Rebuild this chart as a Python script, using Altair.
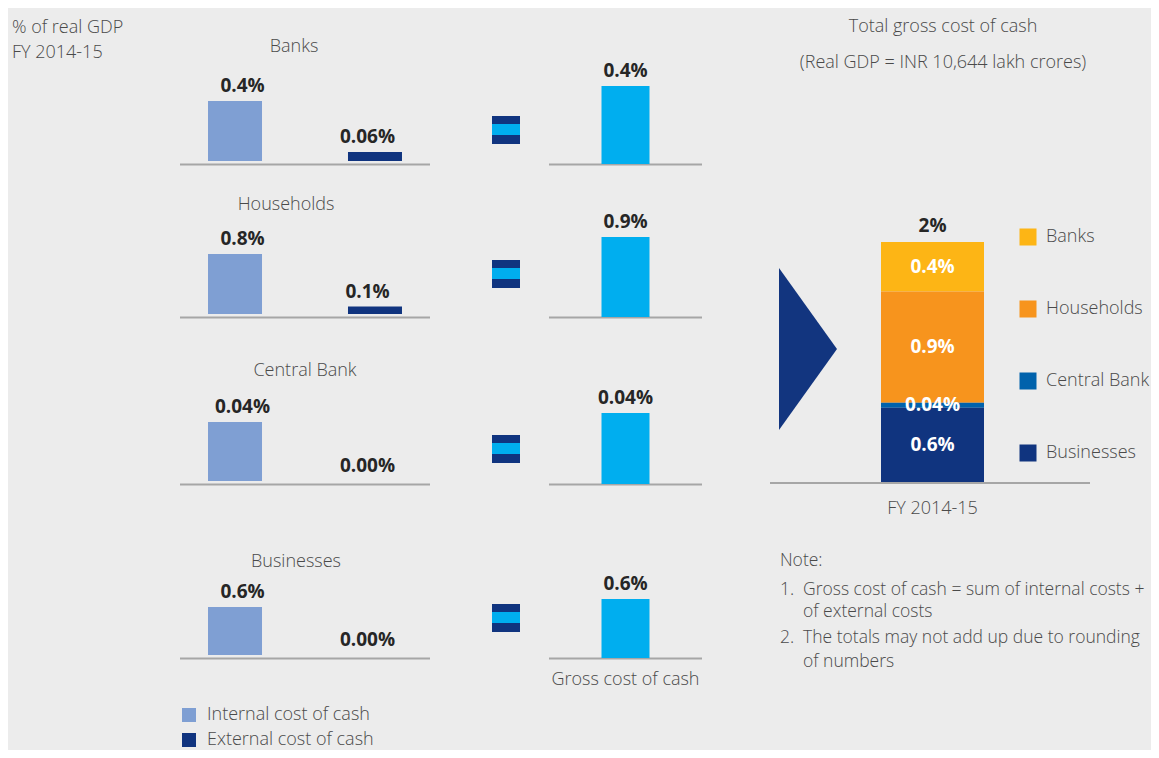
import altair as alt
import pandas as pd

# ---------------- data ----------------
SECTORS = ["Banks", "Households", "Central Bank", "Businesses"]
KINDS = ["Internal cost of cash", "External cost of cash"]
INTERNAL = [0.4, 0.8, 0.04, 0.6]
EXTERNAL = [0.06, 0.1, 0.0, 0.0]
GROSS = [0.4, 0.9, 0.04, 0.6]
INTERNAL_LBL = ["0.4%", "0.8%", "0.04%", "0.6%"]
EXTERNAL_LBL = ["0.06%", "0.1%", "0.00%", "0.00%"]
GROSS_LBL = ["0.4%", "0.9%", "0.04%", "0.6%"]
GROSS_CAT = "Gross cost of cash"
PERIOD = "FY 2014-15"
STACK_SECTORS = ["Banks", "Households", "Central Bank", "Businesses"]  # top -> bottom
STACK_VALUES = [0.4, 0.9, 0.04, 0.6]
STACK_LBL = ["0.4%", "0.9%", "0.04%", "0.6%"]
HEADER = ["% of real GDP", "FY 2014-15"]
RIGHT_TITLE = "Total gross cost of cash"
RIGHT_SUB = "(Real GDP = INR 10,644 lakh crores)"
NOTE_HEAD = "Note:"
NOTE_NUM = ["1.", "", "2.", ""]
NOTE_TXT = ["Gross cost of cash = sum of internal costs +",
            "of external costs",
            "The totals may not add up due to rounding",
            "of numbers"]

# ---------------- style / layout (chart pixel coordinates) ----------------
FONT = "Open Sans"
LIGHT = 300
TXT = "#4a4a4a"
DARK = "#262626"
BG = "#ececec"
C_INT, C_EXT, C_GROSS = "#7f9fd3", "#10347f", "#00aeef"
STACK_COLORS = ["#fdb515", "#f7941d", "#0062ac", "#10347f"]
AXIS_C = "#a6a6a6"
TRI_C = "#12357f"

W, H = 1143, 742
BASE = [156, 309, 476, 650]          # bar baselines of the four rows
PAIR_RANGE = [172, 422]
GROSS_RANGE = [541, 694]
PAIR_PX = [63, 63, 62, 51]           # drawn height of tallest pair bar
GROSS_PX = [78, 80, 71, 59]
MIN_PX = 3
TITLE_X = [286, 278, 297, 288]
TITLE_Y = [44, 202, 368, 559]
EQ_X = [484, 512]
EQ_TOP = [108, 252, 427, 596]
EQ_STRIPES = [(C_EXT, 8), (C_GROSS, 11), (C_EXT, 9)]
STACK_RANGE = [873, 976]
STACK_BASE = 474
STACK_PX = 240
NOTE_SIZE = 17.5

ONE = pd.DataFrame({"k": [0]})
layers = []


def text_layer(txt, x, y, size=18, weight=LIGHT, color=TXT, align="left",
               baseline="alphabetic"):
    return alt.Chart(pd.DataFrame({"t": [txt]})).mark_text(
        fontSize=size, fontWeight=weight, color=color, align=align,
        baseline=baseline, font=FONT
    ).encode(text="t:N", x=alt.value(x), y=alt.value(y))


def hrule(x1, x2, y):
    return alt.Chart(ONE).mark_rule(color=AXIS_C, strokeWidth=2).encode(
        x=alt.value(x1), x2=alt.value(x2), y=alt.value(y))


# header
layers.append(text_layer(HEADER[0], 4, 25))
layers.append(text_layer(HEADER[1], 4, 50))

for i, sector in enumerate(SECTORS):
    b = BASE[i]
    # ----- internal / external pair -----
    df = pd.DataFrame({"kind": KINDS, "value": [INTERNAL[i], EXTERNAL[i]],
                       "label": [INTERNAL_LBL[i], EXTERNAL_LBL[i]]})
    vmax = max(INTERNAL[i], EXTERNAL[i])
    xs = alt.X("kind:N", sort=KINDS, axis=None,
               scale=alt.Scale(range=PAIR_RANGE, paddingInner=0.214, paddingOuter=0))
    ys = alt.Y("value:Q", axis=None,
               scale=alt.Scale(domain=[0, vmax], range=[b, b - (PAIR_PX[i] - MIN_PX)],
                               nice=False, zero=True))
    legend = None
    if i == 0:
        legend = alt.Legend(title=None, orient="none", legendX=172, legendY=698,
                            direction="vertical", symbolType="square",
                            symbolSize=196, symbolStrokeWidth=0,
                            labelFontSize=18, labelFont=FONT, labelLimit=0,
                            labelFontWeight=LIGHT, labelColor=TXT,
                            labelOffset=9, rowPadding=7, padding=0)
    layers.append(hrule(PAIR_RANGE[0], PAIR_RANGE[1], b + 0.5))
    layers.append(alt.Chart(df).mark_bar(width=54, yOffset=-MIN_PX).encode(
        x=xs, y=ys,
        color=alt.Color("kind:N", scale=alt.Scale(domain=KINDS, range=[C_INT, C_EXT]),
                        legend=legend)))
    layers.append(alt.Chart(df).mark_text(
        fontSize=19, fontWeight="bold", color=DARK, font=FONT,
        baseline="alphabetic", dy=-(MIN_PX + 9)).encode(x=xs, y=ys, text="label:N"))
    layers.append(text_layer(sector, TITLE_X[i], TITLE_Y[i], align="center"))

    # ----- equals sign -----
    top = EQ_TOP[i]
    for col, h in EQ_STRIPES:
        layers.append(alt.Chart(ONE).mark_rect(color=col).encode(
            x=alt.value(EQ_X[0]), x2=alt.value(EQ_X[1]),
            y=alt.value(top), y2=alt.value(top + h)))
        top += h

    # ----- gross bar -----
    gdf = pd.DataFrame({"cat": [GROSS_CAT], "value": [GROSS[i]], "label": [GROSS_LBL[i]]})
    gx = alt.X("cat:N", axis=None,
               scale=alt.Scale(range=GROSS_RANGE, paddingInner=0, paddingOuter=0))
    gy = alt.Y("value:Q", axis=None,
               scale=alt.Scale(domain=[0, GROSS[i]], range=[b, b - GROSS_PX[i]],
                               nice=False, zero=True))
    layers.append(hrule(GROSS_RANGE[0], GROSS_RANGE[1], b + 0.5))
    layers.append(alt.Chart(gdf).mark_bar(width=48, color=C_GROSS).encode(x=gx, y=gy))
    layers.append(alt.Chart(gdf).mark_text(
        fontSize=19, fontWeight="bold", color=DARK, font=FONT,
        baseline="alphabetic", dy=-9).encode(x=gx, y=gy, text="label:N"))
    if i == len(SECTORS) - 1:
        layers.append(alt.Chart(gdf).mark_text(
            fontSize=18, fontWeight=LIGHT, color=TXT, font=FONT,
            baseline="alphabetic").encode(x=gx, y=alt.value(b + 27), text="cat:N"))

# ---------------- right block ----------------
n = len(STACK_SECTORS)
sdf = pd.DataFrame({"period": [PERIOD] * n, "sector": STACK_SECTORS,
                    "value": STACK_VALUES, "label": STACK_LBL,
                    "ord": list(range(n))[::-1]})
total = sum(STACK_VALUES)
sx = alt.X("period:N", axis=None,
           scale=alt.Scale(range=STACK_RANGE, paddingInner=0, paddingOuter=0))
sscale = alt.Scale(domain=[0, total], range=[STACK_BASE, STACK_BASE - STACK_PX],
                   nice=False, zero=True)
stacked = alt.Chart(sdf).transform_stack(
    stack="value", groupby=["period"], as_=["v0", "v1"],
    sort=[alt.SortField("ord", order="ascending")]
).transform_calculate(mid="(datum.v0 + datum.v1) / 2")

layers.append(hrule(762, 1082, STACK_BASE + 1))
layers.append(stacked.mark_bar().encode(
    x=sx, y=alt.Y("v0:Q", axis=None, scale=sscale), y2="v1:Q",
    color=alt.Color("sector:N", scale=alt.Scale(domain=STACK_SECTORS, range=STACK_COLORS),
                    legend=alt.Legend(title=None, orient="none", legendX=1011, legendY=220,
                                      direction="vertical", symbolType="square",
                                      symbolSize=289, symbolStrokeWidth=0,
                                      labelFontSize=18, labelFont=FONT, labelLimit=0,
                                      labelFontWeight=LIGHT, labelColor=TXT,
                                      labelOffset=9, rowPadding=54, padding=0))))
layers.append(stacked.mark_text(
    fontSize=19, fontWeight="bold", color="white", font=FONT, baseline="middle"
).encode(x=sx, y=alt.Y("mid:Q", axis=None, scale=sscale), text="label:N"))
layers.append(alt.Chart(sdf).transform_aggregate(
    total="sum(value)", groupby=["period"]
).transform_calculate(txt="format(datum.total, '.0f') + '%'").mark_text(
    fontSize=19, fontWeight="bold", color=DARK, font=FONT, baseline="alphabetic", dy=-10
).encode(x=sx, y=alt.Y("total:Q", axis=None, scale=sscale), text="txt:N"))
layers.append(alt.Chart(sdf).transform_aggregate(
    count="count()", groupby=["period"]
).mark_text(fontSize=18, fontWeight=LIGHT, color=TXT, font=FONT, baseline="alphabetic"
            ).encode(x=sx, y=alt.value(STACK_BASE + 32), text="period:N"))

layers.append(alt.Chart(ONE).mark_point(
    shape="M -0.358 -1 L 0.358 0 L -0.358 1 Z", size=162 ** 2, filled=True,
    color=TRI_C, opacity=1, strokeWidth=0
).encode(x=alt.value(800), y=alt.value(341)))

layers.append(text_layer(RIGHT_TITLE, 935, 24, align="center"))
layers.append(text_layer(RIGHT_SUB, 935, 60, align="center"))
layers.append(text_layer(NOTE_HEAD, 772, 558, size=NOTE_SIZE))
for num, txt, yy in zip(NOTE_NUM, NOTE_TXT, [587, 609, 635, 659]):
    if num:
        layers.append(text_layer(num, 772, yy, size=NOTE_SIZE))
    layers.append(text_layer(txt, 795, yy, size=NOTE_SIZE))

chart = alt.layer(*layers).resolve_scale(
    x="independent", y="independent", color="independent"
).properties(
    width=W, height=H, padding=0, background=BG,
    autosize=alt.AutoSizeParams(type="none")
).configure(font=FONT, view=alt.ViewConfig(stroke=None))

chart.save("out.html", embed_options={"renderer": "svg", "actions": False})
